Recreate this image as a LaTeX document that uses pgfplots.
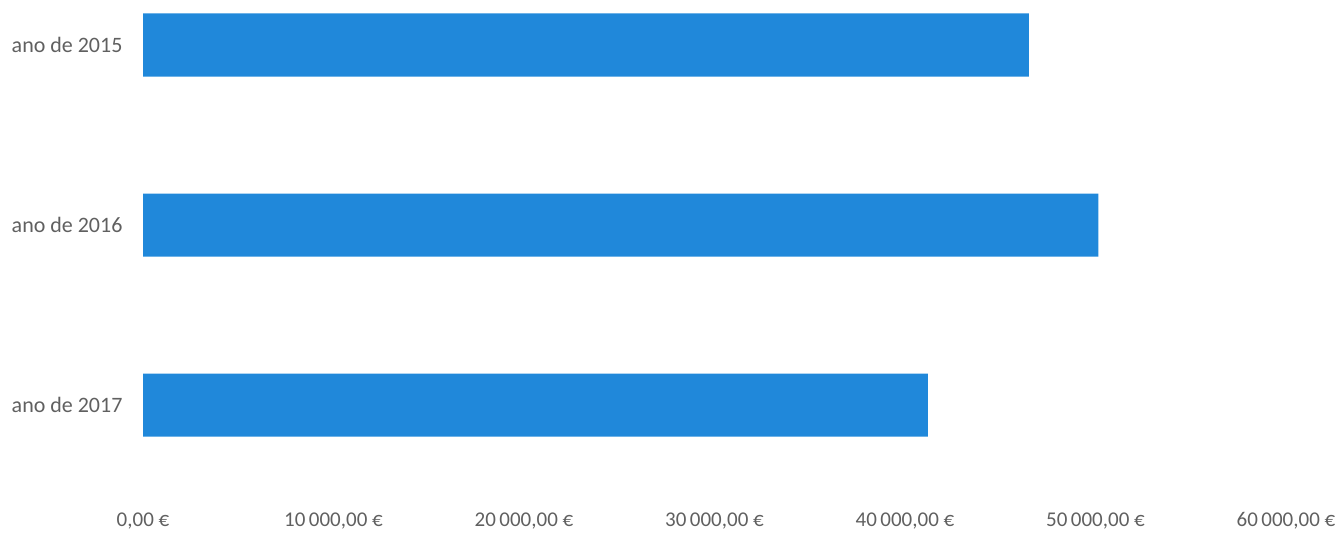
\documentclass[border=0pt]{standalone}
\usepackage{pgfplots}
\pgfplotsset{compat=1.18}
\usepackage{fontspec}
\setmainfont{Carlito}
\definecolor{barblue}{RGB}{32,136,218}
\definecolor{txt}{RGB}{96,96,96}
\begin{document}
\begin{tikzpicture}
\begin{axis}[
  at={(143pt,58pt)}, anchor=south west,
  scale only axis, width=1143pt, height=477pt,
  xbar, bar width=0.35,
  xmin=0, xmax=60000,
  ymin=-0.25, ymax=2.4, y dir=reverse,
  axis lines=none,
  ytick={0,1,2},
  yticklabels={ano de 2015, ano de 2016, ano de 2017},
  xtick={0,10000,20000,30000,40000,50000,60000},
  xticklabels={{0,00 €},{10\,000,00 €},{20\,000,00 €},{30\,000,00 €},{40\,000,00 €},{50\,000,00 €},{60\,000,00 €}},
  major tick length=0pt,
  tick label style={font=\fontsize{21}{24}\selectfont, text=txt},
  yticklabel style={font=\fontsize{22}{26}\selectfont, xshift=-17pt},
  xticklabel style={yshift=-32pt},
  hide x axis=false, hide y axis=false,
  x axis line style={draw=none}, y axis line style={draw=none},
]
\addplot[fill=barblue, draw=none] coordinates {(46500,0) (50150,1) (41200,2)};
\end{axis}
\pgfresetboundingbox
\path (0,0) rectangle (1341pt,535pt);
\end{tikzpicture}
\end{document}
